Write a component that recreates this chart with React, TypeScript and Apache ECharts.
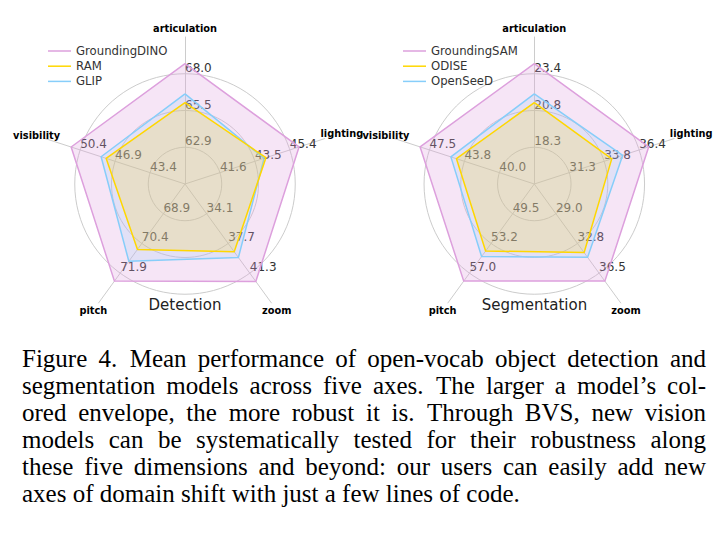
import React, { useEffect, useRef } from 'react';
import * as echarts from 'echarts';

// Axes, counter-clockwise from the top
const axisNames = ['articulation', 'visibility', 'pitch', 'zoom', 'lighting'];

// Detection: ring tick labels per axis (rings 1..3) and model values
const detTickInner = [62.9, 43.4, 68.9, 34.1, 41.6];
const detTickMid = [65.5, 46.9, 70.4, 37.7, 43.5];
const detTickOuter = [68.0, 50.4, 71.9, 41.3, 45.4];
const detModels = ['GroundingDINO', 'RAM', 'GLIP'];
const groundingDINO = [68.7, 51.3, 72.3, 42.3, 45.9];
const ram = [66.0, 47.8, 70.7, 38.7, 44.1];
const glip = [66.6, 48.3, 71.3, 39.4, 44.0];

// Segmentation
const segTickInner = [18.3, 40.0, 49.5, 29.0, 31.3];
const segTickMid = [20.8, 43.8, 53.2, 32.8, 33.8];
const segTickOuter = [23.4, 47.5, 57.0, 36.5, 36.4];
const segModels = ['GroundingSAM', 'ODISE', 'OpenSeeD'];
const groundingSAM = [24.1, 48.5, 58.0, 37.5, 37.1];
const odise = [21.4, 44.6, 54.2, 33.9, 34.4];
const openSeeD = [22.0, 45.2, 54.9, 34.5, 35.2];

const panelTitles = ['Detection', 'Segmentation'];

const captionLines = [
  'Figure 4.\u2002Mean performance of open-vocab object detection and',
  'segmentation models across five axes.\u2002The larger a model\u2019s col-',
  'ored envelope, the more robust it is.\u2002Through BVS, new vision',
  'models can be systematically tested for their robustness along',
  'these five dimensions and beyond: our users can easily add new',
  'axes of domain shift with just a few lines of code.',
];

const PINK = '#DDA0DD';
const PINK_FILL = 'rgba(221,160,221,0.4)';
const GOLD = '#FFD700';
const GOLD_FILL = 'rgba(255,215,0,0.25)';
const BLUE = '#87CEFA';
const BLUE_FILL = 'rgba(135,206,250,0.25)';
const GRID = '#cccccc';
const NONE = 'rgba(0,0,0,0)';

const FONT = 'DejaVu Sans';

function buildIndicators(inner: number[], mid: number[], outer: number[]) {
  return axisNames.map((name, i) => {
    const step = (outer[i] - inner[i]) / 2;
    const min = inner[i] - step;
    const max = outer[i] + step;
    const labels = ['', inner[i].toFixed(1), mid[i].toFixed(1), outer[i].toFixed(1), ''];
    return {
      name,
      min,
      max,
      axisLabel: {
        formatter: (v: number) => {
          const k = Math.round((v - min) / step);
          return labels[k] ?? '';
        },
      },
    };
  });
}

function radarBase(cx: number, indicator: any[]) {
  return {
    center: [cx, 184],
    radius: 147,
    startAngle: 90,
    splitNumber: 4,
    shape: 'circle',
    indicator,
    axisNameGap: 9,
    axisName: {
      color: '#000',
      fontWeight: 'bold',
      fontSize: 9.8,
      fontFamily: FONT,
      align: 'center',
      verticalAlign: 'middle',
    },
    axisLine: { lineStyle: { color: GRID, width: 1 } },
    axisTick: { show: false },
    axisLabel: {
      show: true,
      margin: 0,
      align: 'left',
      verticalAlign: 'bottom',
      fontSize: 12,
      color: '#333',
      fontFamily: FONT,
    },
    splitLine: {
      lineStyle: {
        color: [GRID, GRID, GRID, GRID, NONE, NONE],
        width: 1,
      },
    },
    splitArea: { show: false },
  };
}

function item(name: string, value: number[], line: string, fill: string) {
  return {
    name,
    value,
    lineStyle: { color: line, width: 1.5 },
    areaStyle: { color: fill },
    itemStyle: { color: line },
  };
}

function legend(data: string[], left: number) {
  return {
    data,
    left,
    top: 44,
    orient: 'vertical',
    icon: 'rect',
    itemWidth: 23,
    itemHeight: 1.5,
    itemGap: 1.2,
    padding: 0,
    selectedMode: false,
    textStyle: { fontSize: 11.7, color: '#333', fontFamily: FONT, lineHeight: 14 },
  };
}

function title(text: string, left: number) {
  return {
    text,
    left,
    top: 297,
    textAlign: 'center',
    padding: 0,
    textStyle: { fontSize: 15, fontWeight: 'normal', color: '#222', fontFamily: FONT },
  };
}

export default function App() {
  const ref = useRef<HTMLDivElement>(null);

  useEffect(() => {
    if (!ref.current) return;
    const chart = echarts.init(ref.current, undefined, { renderer: 'svg' });
    chart.setOption({
      animation: false,
      backgroundColor: '#ffffff',
      title: [title(panelTitles[0], 185), title(panelTitles[1], 534.5)],
      legend: [legend(detModels, 48), legend(segModels, 403)],
      radar: [
        radarBase(185, buildIndicators(detTickInner, detTickMid, detTickOuter)),
        radarBase(534.3, buildIndicators(segTickInner, segTickMid, segTickOuter)),
      ],
      series: [
        {
          type: 'radar',
          radarIndex: 0,
          symbol: 'none',
          data: [
            item(detModels[0], groundingDINO, PINK, PINK_FILL),
            item(detModels[2], glip, BLUE, BLUE_FILL),
            item(detModels[1], ram, GOLD, GOLD_FILL),
          ],
        },
        {
          type: 'radar',
          radarIndex: 1,
          symbol: 'none',
          data: [
            item(segModels[0], groundingSAM, PINK, PINK_FILL),
            item(segModels[2], openSeeD, BLUE, BLUE_FILL),
            item(segModels[1], odise, GOLD, GOLD_FILL),
          ],
        },
      ],
    });
    return () => chart.dispose();
  }, []);

  return (
    <div style={{ position: 'absolute', left: 0, top: 0, width: 720, height: 548, background: '#fff' }}>
      <div ref={ref} style={{ position: 'absolute', left: 0, top: 0, width: 720, height: 330 }} />
      {captionLines.map((line, i) => {
        const last = i === captionLines.length - 1;
        return (
          <div
            key={i}
            style={{
              position: 'absolute',
              left: 22,
              top: 344.5 + i * 27,
              width: 684,
              height: 27,
              lineHeight: '27px',
              fontFamily: '"Liberation Serif", "Times New Roman", serif',
              fontSize: 25,
              color: '#000',
              whiteSpace: 'nowrap',
              textAlign: last ? 'left' : 'justify',
              textAlignLast: last ? 'left' : 'justify',
            } as React.CSSProperties}
          >
            {line}
          </div>
        );
      })}
    </div>
  );
}
